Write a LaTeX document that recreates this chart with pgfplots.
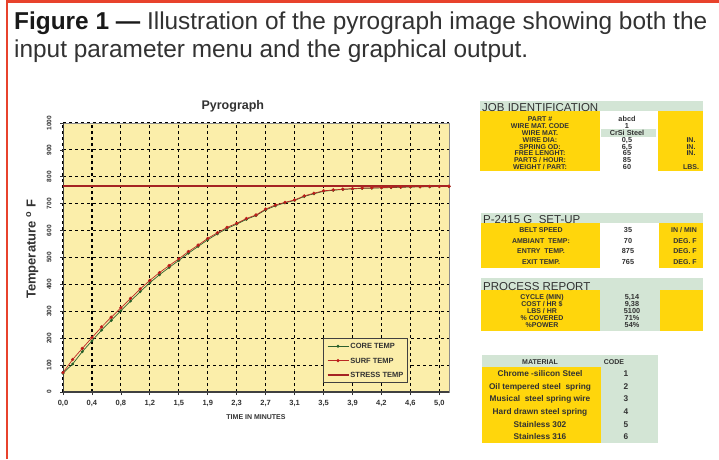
\documentclass[border=0pt]{standalone}
\usepackage{pgfplots}
\usepackage{pgfplotstable}
\pgfplotsset{compat=1.18}
\usepackage{fontspec}
\setmainfont{Liberation Sans}
\definecolor{capred}{RGB}{232,66,44}
\definecolor{plotbg}{RGB}{251,238,170}
\definecolor{tyellow}{RGB}{255,214,12}
\definecolor{tgreen}{RGB}{211,229,213}
\definecolor{surfred}{RGB}{185,40,35}
\definecolor{coregreen}{RGB}{45,95,45}
\definecolor{stressred}{RGB}{165,35,35}
\definecolor{txt}{RGB}{50,50,50}
\newcommand\tf{\fontsize{7}{7}\selectfont\bfseries}
\newcommand\vf{\fontsize{7.3}{8}\selectfont\bfseries}
\newcommand\mf{\fontsize{8.3}{9}\selectfont\bfseries}
\newcommand\hf{\fontsize{11.5}{12}\selectfont}
\tikzset{
 L/.style={inner sep=0pt, font=\tf, text=txt, text height=5pt, text depth=0pt},
 V/.style={inner sep=0pt, font=\vf, text=txt, text height=5.2pt, text depth=0pt},
 M/.style={inner sep=0pt, font=\mf, text=txt, text height=6pt, text depth=0pt},
 H/.style={inner sep=0pt, font=\hf, text=txt, anchor=base west}
}
\pgfplotstableread{
i surf core
0 72 70
1 121 104
2 162 150
3 202 190
4 242 230
5 278 266
6 313 302
7 348 338
8 383 373
9 415 406
10 444 436
11 470 463
12 495 489
13 522 516
14 546 541
15 571 566
16 592 588
17 612 608
18 627 624
19 645 642
20 658 656
21 680 677
22 695 692
23 705 703
24 714 712
25 729 727
26 739 737
27 748 746
28 751 750
29 754 753
30 756 755
31 758 757
32 759 758
33 760 759
34 761 760
35 762 761
36 763 762
37 763 763
38 764 763
39 764 764
40 765 764
}\curvedata
\begin{document}
\begin{tikzpicture}
\useasboundingbox (0,0) rectangle (719pt,459pt);
\fill[white] (0,0) rectangle (719pt,459pt);
\begin{scope}[x=1pt,y=-1pt,yshift=459pt]
\draw[capred,line width=2.6pt] (6.8,459) -- (6.8,1.3) -- (719,1.3);
\node[anchor=base west,inner sep=0,text=txt,font=\fontsize{24.4}{28}\selectfont] at (14,30) {{\bfseries\color{black!90}Figure 1 \textemdash} Illustration of the pyrograph image showing both the};
\node[anchor=base west,inner sep=0,text=txt,font=\fontsize{24.4}{28}\selectfont] at (14,58) {input parameter menu and the graphical output.};
% ---- JOB IDENTIFICATION
\fill[tgreen] (480,101) rectangle (703,111);
\fill[tyellow] (480,111) rectangle (600,171);
\fill[tyellow] (658,111) rectangle (703,171);
\fill[tgreen] (601,129) rectangle (656,136.5);
\node[H] at (482,111) {JOB IDENTIFICATION};
\node[L] at (540,119.3) {PART \#};
\node[L] at (540,126.1) {WIRE MAT. CODE};
\node[L] at (540,132.9) {WIRE MAT.};
\node[L] at (540,139.7) {WIRE DIA:};
\node[L] at (540,146.5) {SPRING OD:};
\node[L] at (540,153.3) {FREE LENGHT:};
\node[L] at (540,160.1) {PARTS / HOUR:};
\node[L] at (540,166.9) {WEIGHT / PART:};
\node[V] at (627,119.3) {abcd};
\node[V] at (627,126.1) {1};
\node[V] at (627,132.9) {CrSi Steel};
\node[V] at (627,139.7) {0,5};
\node[V] at (627,146.5) {6,5};
\node[V] at (627,153.3) {65};
\node[V] at (627,160.1) {85};
\node[V] at (627,166.9) {60};
\node[L] at (691,139.7) {IN.};
\node[L] at (691,146.5) {IN.};
\node[L] at (691,153.3) {IN.};
\node[L] at (691,166.9) {LBS.};
% ---- SET-UP
\fill[tgreen] (481,213) rectangle (703,223);
\fill[tyellow] (481,223) rectangle (600,268);
\fill[tyellow] (659,223) rectangle (703,268);
\node[H] at (483,223) {P-2415 G\ \ SET-UP};
\node[L] at (541,230) {BELT SPEED};
\node[L] at (541,240.5) {AMBIANT\ \ TEMP:};
\node[L] at (541,251) {ENTRY\ \ TEMP.};
\node[L] at (541,261.5) {EXIT TEMP.};
\node[V] at (628,230) {35};
\node[V] at (628,240.5) {70};
\node[V] at (628,251) {875};
\node[V] at (628,261.5) {765};
\node[L] at (684,230) {IN / MIN};
\node[L] at (685,240.5) {DEG. F};
\node[L] at (685,251) {DEG. F};
\node[L] at (685,261.5) {DEG. F};
% ---- PROCESS REPORT
\fill[tgreen] (481,278) rectangle (703,331);
\fill[tyellow] (481,290) rectangle (600,331);
\fill[tyellow] (660,290) rectangle (703,331);
\node[H] at (483,290) {PROCESS REPORT};
\node[L] at (542,297) {CYCLE (MIN)};
\node[L] at (542,304) {COST / HR \$};
\node[L] at (542,311) {LBS / HR};
\node[L] at (542,318) {\% COVERED};
\node[L] at (542,325) {\%POWER};
\node[V] at (632,297) {5,14};
\node[V] at (632,304) {9,38};
\node[V] at (632,311) {5100};
\node[V] at (632,318) {71\%};
\node[V] at (632,325) {54\%};
% ---- MATERIAL
\fill[tgreen] (482,355) rectangle (658,443);
\fill[tyellow] (482,367) rectangle (601,443);
\node[L] at (540,361.5) {MATERIAL};
\node[L] at (614,361.5) {CODE};
\node[M] at (540,373.7) {Chrome -silicon Steel};
\node[M] at (540,386.3) {Oil tempered steel\ \ spring};
\node[M] at (540,398.9) {Musical\ \ steel spring wire};
\node[M] at (540,411.5) {Hard drawn steel spring};
\node[M] at (540,424.1) {Stainless 302};
\node[M] at (540,436.7) {Stainless 316};
\node[M] at (626,373.7) {1};
\node[M] at (626,386.3) {2};
\node[M] at (626,398.9) {3};
\node[M] at (626,411.5) {4};
\node[M] at (626,424.1) {5};
\node[M] at (626,436.7) {6};
\end{scope}
\begin{axis}[
  at={(63pt,67pt)}, anchor=south west,
  scale only axis, width=386pt, height=269pt,
  xmin=0, xmax=40, ymin=0, ymax=1000,
  axis background/.style={fill=plotbg},
  axis line style={black!45, line width=0.9pt},
  xtick={0,3,...,39},
  xticklabels={{0,0},{0,4},{0,8},{1,2},{1,5},{1,9},{2,3},{2,7},{3,1},{3,5},{3,9},{4,2},{4,6},{5,0}},
  ytick={0,100,...,1000},
  yticklabels={0,100,200,300,400,500,600,700,800,900,1000},
  tick align=outside, major tick length=3pt, tick pos=left,
  tick style={black!80, line width=0.8pt},
  grid=major,
  major grid style={black, line width=1.15pt, dash pattern=on 3.4pt off 2.6pt},
  xticklabel style={font=\fontsize{7.5}{8}\selectfont\bfseries, text=txt},
  xticklabel shift=1.5pt,
  yticklabel style={font=\fontsize{6.5}{7}\selectfont\bfseries, text=txt, rotate=90, anchor=south},
  yticklabel shift=5pt,
  title={Pyrograph},
  title style={font=\fontsize{12.5}{13}\selectfont\bfseries, text=txt, at={(axis description cs:0.44,1)}, anchor=base, yshift=8pt, inner sep=0pt},
  xlabel={TIME IN MINUTES},
  xlabel style={font=\fontsize{7}{8}\selectfont\bfseries, text=txt, at={(axis description cs:0.5,0)}, anchor=center, yshift=-24.7pt},
  ylabel={Temperature \textsuperscript{o} F},
  ylabel style={font=\fontsize{13}{14}\selectfont\bfseries, text=txt, at={(axis description cs:-0.0635,0.53)}, anchor=south, inner sep=0pt},
  legend cell align=left,
  legend style={at={(axis description cs:0.674,0.033)}, anchor=south west, fill=plotbg, draw=black!75, line width=0.9pt, font=\fontsize{7.5}{8}\selectfont\bfseries, text=txt, inner xsep=3pt, inner ysep=4pt, row sep=7pt, nodes={inner sep=1pt, text height=5.4pt, text depth=0pt}},
  legend image code/.code={\draw[mark repeat=2, mark phase=2, #1] plot coordinates {(0pt,0pt) (10.5pt,0pt) (21pt,0pt)};},
]
\draw[black!75, line width=2pt] (rel axis cs:0,1) -- (rel axis cs:0,0) -- (rel axis cs:1,0);
\addplot[coregreen, line width=0.7pt, mark=*, mark size=1.1pt, mark options={fill=green!45!black, draw=coregreen}] table[x=i,y=core]{\curvedata};
\addlegendentry{CORE TEMP}
\addplot[surfred, line width=0.7pt, mark=*, mark size=1.3pt, mark options={fill=red!85!black, draw=surfred}] table[x=i,y=surf]{\curvedata};
\addlegendentry{SURF TEMP}
\addplot[stressred, line width=1.8pt] coordinates {(0,765) (40,765)};
\addlegendentry{STRESS TEMP}
\end{axis}
\end{tikzpicture}
\end{document}
